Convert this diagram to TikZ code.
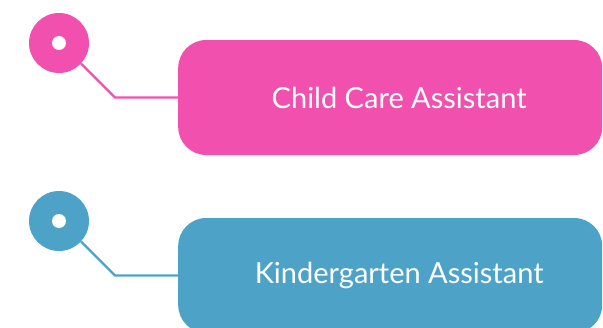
\documentclass[tikz,border=0pt]{standalone}
\usepackage{fontspec}
\setmainfont{Lato}
\usetikzlibrary{positioning}
\definecolor{rosepink}{HTML}{F250AE}
\definecolor{skyblue}{HTML}{4DA3C7}
\begin{document}
\begin{tikzpicture}[x=1pt,y=-1pt,
  dot/.style={circle,minimum size=60pt,inner sep=0pt,fill=#1},
  hole/.style={circle,minimum size=14pt,inner sep=0pt,fill=white},
  job/.style={rounded corners=28pt,minimum width=424pt,minimum height=115pt,fill=#1,anchor=west},
  jobtext/.style={text=white,font=\fontsize{29}{34}\selectfont,xshift=9pt},
  link/.style={draw=#1,line width=2.2pt}]
  \useasboundingbox (0,0) rectangle (603,327);
  % first job
  \node[dot=rosepink] (childdot) at (59,43) {};
  \node[hole] (childhole) at (childdot) {};
  \node[job=rosepink,label={[jobtext]center:Child Care Assistant}] (childbox) at (178,97.5) {};
  \coordinate (childknee) at (115,97.5);
  \draw[link=rosepink] (childdot.-43) -- (childknee) -- (childbox.west);
  % second job
  \node[dot=skyblue] (kinderdot) at (59,221) {};
  \node[hole] (kinderhole) at (kinderdot) {};
  \node[job=skyblue,label={[jobtext]center:Kindergarten Assistant}] (kinderbox) at (178,275.5) {};
  \coordinate (kinderknee) at (115,275.5);
  \draw[link=skyblue] (kinderdot.-43) -- (kinderknee) -- (kinderbox.west);
\end{tikzpicture}
\end{document}
